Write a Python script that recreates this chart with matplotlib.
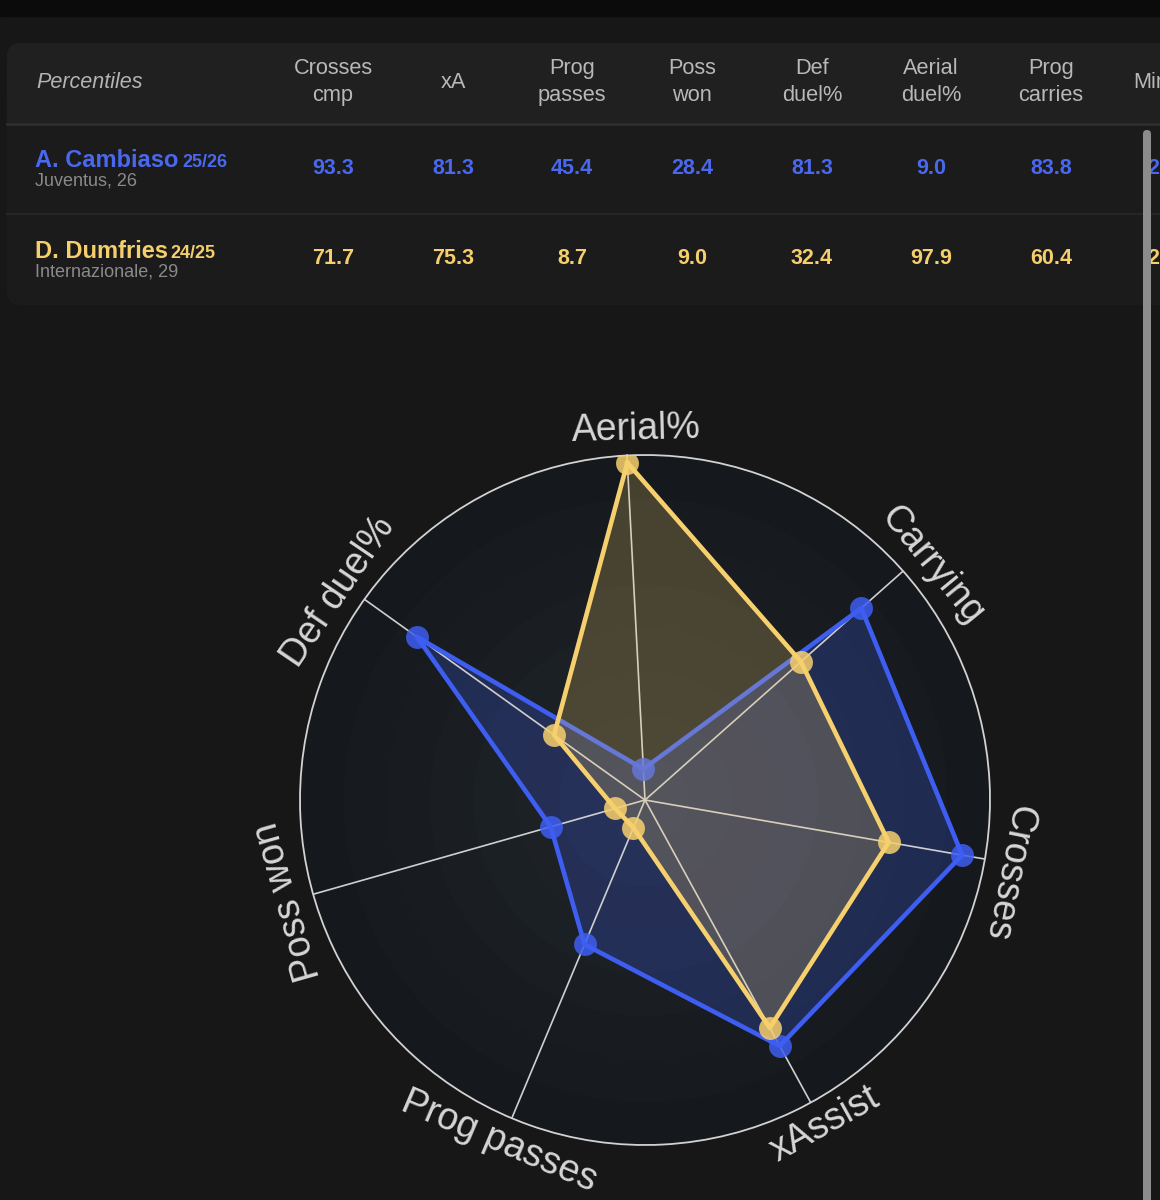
import numpy as np
import matplotlib.pyplot as plt
from matplotlib.patches import FancyBboxPatch, Rectangle

plt.rcParams['font.family'] = ['Liberation Sans', 'DejaVu Sans']

# 表格数据
columns = ['Crosses\ncmp', 'xA', 'Prog\npasses', 'Poss\nwon', 'Def\nduel%', 'Aerial\nduel%', 'Prog\ncarries']
players = ['A. Cambiaso', 'D. Dumfries']
seasons = ['25/26', '24/25']
clubs = ['Juventus, 26', 'Internazionale, 29']
cambiaso_table = [93.3, 81.3, 45.4, 28.4, 81.3, 9.0, 83.8]
dumfries_table = [71.7, 75.3, 8.7, 9.0, 32.4, 97.9, 60.4]

# 雷达图数据 (顺时针, 从上开始)
radar_labels = ['Aerial%', 'Carrying', 'Crosses', 'xAssist', 'Prog passes', 'Poss won', 'Def duel%']
cambiaso_radar = [9.0, 83.8, 93.3, 81.3, 45.4, 28.4, 81.3]
dumfries_radar = [97.9, 60.4, 71.7, 75.3, 8.7, 9.0, 32.4]

blue = '#3e5ef2'
yellow = '#f7d06e'
blue_txt = '#4a68ee'
yellow_txt = '#f5cf6c'

W, H = 1160, 1200
fig = plt.figure(figsize=(W / 100, H / 100), dpi=100, facecolor='#171717')

bg = fig.add_axes([0, 0, 1, 1])
bg.set_xlim(0, W)
bg.set_ylim(H, 0)
bg.axis('off')

# 顶部深色条
bg.add_patch(Rectangle((0, 0), W, 16, color='#0b0b0b', zorder=0))

# 表格卡片
bg.add_patch(FancyBboxPatch((7, 43), 1250, 262, boxstyle='round,pad=0,rounding_size=14',
                            fc='#1b1b1b', ec='none', zorder=1))
bg.add_patch(FancyBboxPatch((7, 43), 1250, 80, boxstyle='round,pad=0,rounding_size=14',
                            fc='#202020', ec='none', zorder=1))
bg.add_patch(Rectangle((7, 100), 1250, 23, color='#202020', zorder=1))
bg.plot([7, W], [123.5, 123.5], color='#2e2e2e', lw=2, zorder=2)
bg.plot([7, W], [213.5, 213.5], color='#262626', lw=1.5, zorder=2)

bg.text(36, 82, 'Percentiles', fontsize=15.5, style='italic', color='#b4b4b4', va='center', zorder=3)

col_x = [333, 453, 572, 692, 812, 931, 1051]
for x, c in zip(col_x, columns):
    bg.text(x, 82, c, fontsize=15.7, color='#b8b8b8', ha='center', va='center',
            linespacing=1.4, zorder=3)
bg.text(1133, 82, 'Mins', fontsize=15.7, color='#b8b8b8', ha='left', va='center', zorder=3)

row_y = [168, 259]
name_x2 = [182, 170]
name_colors = [blue_txt, yellow_txt]
rows = [cambiaso_table, dumfries_table]
for i in range(2):
    y = row_y[i]
    bg.text(35, y - 1, players[i], fontsize=17, weight='bold', color=name_colors[i],
            va='baseline', zorder=3)
    bg.text(name_x2[i], y - 1, seasons[i], fontsize=13, weight='bold', color=name_colors[i],
            va='baseline', zorder=3)
    bg.text(35, y + 13, clubs[i], fontsize=13, color='#8a8a8a', va='center', zorder=3)
    for x, v in zip(col_x, rows[i]):
        bg.text(x, y, f'{v:.1f}', fontsize=15.5, weight='bold', color=name_colors[i],
                ha='center', va='center', zorder=3)
    bg.text(1147, y, '2', fontsize=15.5, weight='bold', color=name_colors[i],
            ha='left', va='center', zorder=3)

# 滚动条
bg.add_patch(FancyBboxPatch((1143, 130), 8, 1100, boxstyle='round,pad=0,rounding_size=4',
                            fc='#8c8c8c', ec='none', zorder=5))

# 雷达图
cx, cy, R = 645, 800, 345
ax = fig.add_axes([(cx - R) / W, (H - cy - R) / H, 2 * R / W, 2 * R / H], projection='polar')
ax.set_theta_direction(-1)
ax.set_theta_offset(np.pi / 2 + np.deg2rad(3))
ax.set_ylim(0, 100)
ax.set_xticks([])
ax.set_yticks([])
ax.grid(False)
ax.set_facecolor('#15191d')
ax.spines['polar'].set_color('#d2d2d2')
ax.spines['polar'].set_linewidth(1.3)

# 背景渐变
full = np.linspace(0, 2 * np.pi, 361)
radii = np.linspace(100, 0, 9)
shades = np.linspace(0, 1, 9)
c_out = np.array([0x15, 0x19, 0x1d]) / 255
c_in = np.array([0x21, 0x26, 0x2a]) / 255
for r, s in zip(radii, shades):
    ax.fill_between(full, 0, r, color=c_out + (c_in - c_out) * s, lw=0, zorder=0)

n = len(radar_labels)
angles = np.arange(n) * 2 * np.pi / n
ang_closed = np.append(angles, angles[0])

for a in angles:
    ax.plot([a, a], [0, 100], color='#cfcfcf', lw=1.2, zorder=1.5)

cam = np.append(cambiaso_radar, cambiaso_radar[0])
dum = np.append(dumfries_radar, dumfries_radar[0])

ax.fill(ang_closed, cam, color=blue, alpha=0.245, lw=0, zorder=1)
ax.plot(ang_closed, cam, color=blue, lw=3.3, zorder=2)
ax.plot(angles, cambiaso_radar, 'o', color=blue, ms=16.5, mew=0, alpha=0.85, zorder=2.1)

ax.fill(ang_closed, dum, color=yellow, alpha=0.22, lw=0, zorder=3)
ax.plot(ang_closed, dum, color=yellow, lw=3.3, zorder=4)
ax.plot(angles, dumfries_radar, 'o', color=yellow, ms=16.5, mew=0, alpha=0.85, zorder=4.1)

# 标签 (略微顺时针偏移)
label_shift = [1.6, 2.2, 1.4, -0.3, 0.4, 0.0, -1.4]
for a, lab, sh in zip(angles, radar_labels, label_shift):
    deg = np.rad2deg(a) - 3
    rot = -(deg + sh)
    if np.cos(np.deg2rad(deg)) < -0.5:
        rot += 180
    ax.text(a + np.deg2rad(sh), 107.5, lab, fontsize=27, color='#d6d6d6', rotation=rot,
            rotation_mode='anchor', ha='center', va='center')

fig.savefig('out.png', dpi=100, facecolor=fig.get_facecolor())
